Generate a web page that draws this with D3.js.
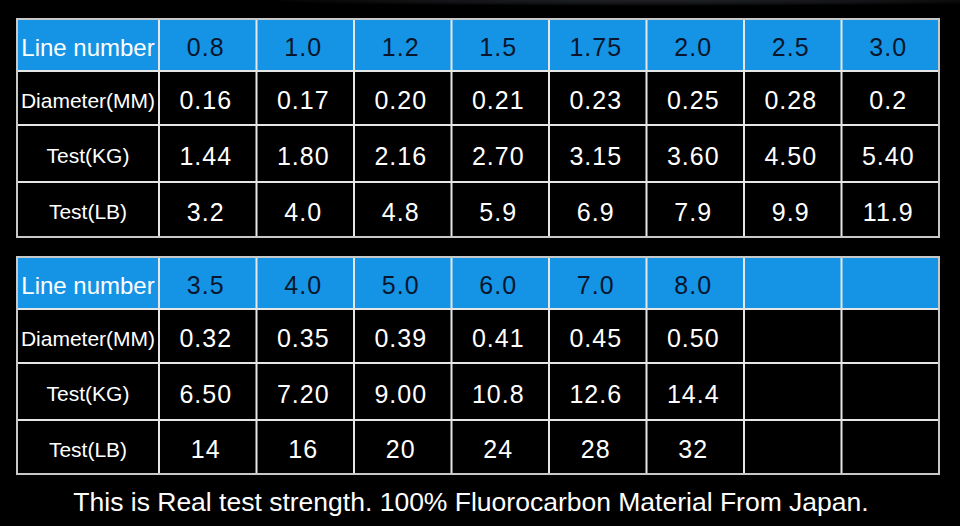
<!DOCTYPE html>
<html>
<head>
<meta charset="utf-8">
<script src="https://cdn.jsdelivr.net/npm/d3@7"></script>
<style>
  body { margin: 0; background: #000; }
  svg { display: block; }
</style>
</head>
<body>
<div id="chart"></div>
<script>
// table content
var rowLabels = ["Line number", "Diameter(MM)", "Test(KG)", "Test(LB)"];

var lineNumbers1 = ["0.8", "1.0", "1.2", "1.5", "1.75", "2.0", "2.5", "3.0"];
var diameter1    = ["0.16", "0.17", "0.20", "0.21", "0.23", "0.25", "0.28", "0.2"];
var testKg1      = ["1.44", "1.80", "2.16", "2.70", "3.15", "3.60", "4.50", "5.40"];
var testLb1      = ["3.2", "4.0", "4.8", "5.9", "6.9", "7.9", "9.9", "11.9"];

var lineNumbers2 = ["3.5", "4.0", "5.0", "6.0", "7.0", "8.0", "", ""];
var diameter2    = ["0.32", "0.35", "0.39", "0.41", "0.45", "0.50", "", ""];
var testKg2      = ["6.50", "7.20", "9.00", "10.8", "12.6", "14.4", "", ""];
var testLb2      = ["14", "16", "20", "24", "28", "32", "", ""];

var caption = "This is Real test strength. 100% Fluorocarbon Material From Japan.";

var W = 960, H = 526;

var svg = d3.select("#chart").append("svg")
    .attr("width", W)
    .attr("height", H);

// faint smudge at the top of the photo
var defs = svg.append("defs");
var grad = defs.append("radialGradient")
    .attr("id", "topfade")
    .attr("cx", "0.55").attr("cy", "0").attr("r", "0.6");
grad.append("stop").attr("offset", "0%").attr("stop-color", "#303236");
grad.append("stop").attr("offset", "60%").attr("stop-color", "#1a1b1e");
grad.append("stop").attr("offset", "100%").attr("stop-color", "#000");

svg.append("rect").attr("width", W).attr("height", H).attr("fill", "#000");
svg.append("rect")
    .attr("x", 280).attr("y", 0).attr("width", 680).attr("height", 10)
    .attr("fill", "url(#topfade)").attr("opacity", 0.7);

var cols = d3.range(8);
var x = d3.scaleBand().domain(cols).range([159, 939]);
var labelX0 = 17;

function drawTable(top, rowBottoms, rows) {
  var y0 = [top].concat(rowBottoms.slice(0, -1));
  var g = svg.append("g");

  // header background
  g.append("rect")
      .attr("x", labelX0).attr("y", top)
      .attr("width", x.range()[1] - labelX0)
      .attr("height", rowBottoms[0] - top)
      .attr("fill", "#1594e6");

  // row labels
  g.selectAll("text.label")
    .data(rowLabels)
    .enter().append("text")
      .attr("class", "label")
      .attr("x", (labelX0 + x.range()[0]) / 2)
      .attr("y", function(d, i) { return (y0[i] + rowBottoms[i]) / 2 + 2; })
      .attr("text-anchor", "middle")
      .attr("dominant-baseline", "central")
      .attr("fill", "#fff")
      .style("font-family", "Liberation Sans, Arial, sans-serif")
      .style("font-size", function(d, i) { return i === 0 ? "24px" : "21px"; })
      .text(function(d) { return d; });

  // cell values
  rows.forEach(function(vals, r) {
    g.selectAll("text.r" + r)
      .data(vals)
      .enter().append("text")
        .attr("class", "r" + r)
        .attr("x", function(d, i) { return x(i) + x.bandwidth() / 2 - 2; })
        .attr("y", (y0[r] + rowBottoms[r]) / 2 + 2)
        .attr("text-anchor", "middle")
        .attr("dominant-baseline", "central")
        .attr("fill", r === 0 ? "#08162c" : "#fff")
        .style("font-family", "Liberation Sans, Arial, sans-serif")
        .style("font-size", "25px")
        .style("letter-spacing", "1px")
        .text(function(d) { return d; });
  });

  // grid lines
  var bottom = rowBottoms[rowBottoms.length - 1];
  var vx = [x.range()[0]].concat(cols.slice(1).map(function(c) { return x(c); }));
  g.selectAll("line.v")
    .data(vx)
    .enter().append("line")
      .attr("x1", function(d) { return d; }).attr("x2", function(d) { return d; })
      .attr("y1", top).attr("y2", bottom)
      .attr("stroke", "#e6e6e6").attr("stroke-width", 2);
  g.selectAll("line.h")
    .data(rowBottoms.slice(0, -1))
    .enter().append("line")
      .attr("x1", labelX0).attr("x2", x.range()[1])
      .attr("y1", function(d) { return d; }).attr("y2", function(d) { return d; })
      .attr("stroke", "#e6e6e6").attr("stroke-width", 2);
  g.append("rect")
      .attr("x", labelX0).attr("y", top)
      .attr("width", x.range()[1] - labelX0).attr("height", bottom - top)
      .attr("fill", "none")
      .attr("stroke", "#c8c8c8").attr("stroke-width", 2);
}

drawTable(19, [71, 125, 182, 237], [lineNumbers1, diameter1, testKg1, testLb1]);
drawTable(257, [309, 363, 420, 474], [lineNumbers2, diameter2, testKg2, testLb2]);

svg.append("text")
    .attr("x", 471)
    .attr("y", 511)
    .attr("text-anchor", "middle")
    .attr("fill", "#fff")
    .style("font-family", "Liberation Sans, Arial, sans-serif")
    .style("font-size", "26.5px")
    .text(caption);
</script>
</body>
</html>
